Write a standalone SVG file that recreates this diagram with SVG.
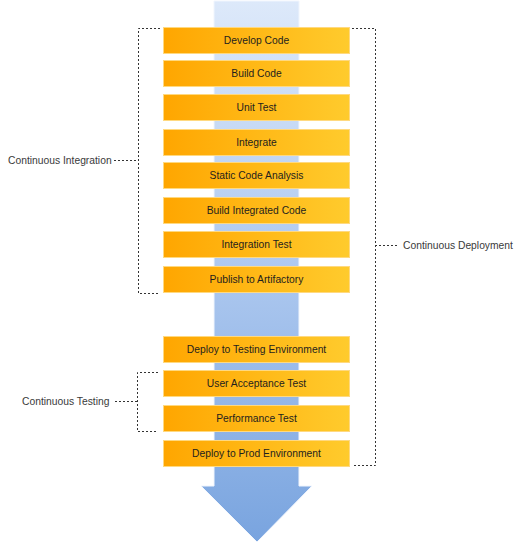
<svg xmlns="http://www.w3.org/2000/svg" width="528" height="545" viewBox="0 0 528 545">
<defs>
<linearGradient id="arrowGrad" x1="0" y1="0" x2="0" y2="1" gradientUnits="objectBoundingBox">
<stop offset="0" stop-color="#dde9fa"/>
<stop offset="0.5" stop-color="#adc8ef"/>
<stop offset="1" stop-color="#79a4df"/>
</linearGradient>
<linearGradient id="boxGrad" x1="0" y1="0" x2="1" y2="0">
<stop offset="0" stop-color="#ffa600"/>
<stop offset="1" stop-color="#ffcb2d"/>
</linearGradient>
<style>
.box rect{fill:url(#boxGrad);stroke:#ffd980;stroke-width:1}
.box text{font-family:"Liberation Sans",Arial,sans-serif;font-size:10.3px;fill:#1e1e1e;text-anchor:middle}
.lbl{font-family:"Liberation Sans",Arial,sans-serif;font-size:10.3px;fill:#3a3a3a}
.dash{fill:none;stroke:#333;stroke-width:1;stroke-dasharray:2,2}
</style>
</defs>
<g id="arrow">
<path d="M214,1 L299,1 L299,486 L312,486 L257,542 L201,486 L214,486 Z" fill="url(#arrowGrad)" stroke="#f0f5fd" stroke-width="1"/>
</g>
<g id="connectors">
<path class="dash" d="M160,28.5 H138.5 V293.5 H160"/>
<path class="dash" d="M114,160.5 H138"/>
<path class="dash" d="M352,28.5 H375.5 V465.5 H353"/>
<path class="dash" d="M375,245.5 H398"/>
<path class="dash" d="M158,372.5 H137.5 V431.5 H158"/>
<path class="dash" d="M115,401.5 H137"/>
</g>
<g id="n1" class="box"><rect x="163.5" y="27.5" width="186" height="26"/><text x="256.5" y="44">Develop Code</text></g>
<g id="n2" class="box"><rect x="163.5" y="60.5" width="186" height="26"/><text x="256.5" y="77">Build Code</text></g>
<g id="n3" class="box"><rect x="163.5" y="94.5" width="186" height="26"/><text x="256.5" y="111">Unit Test</text></g>
<g id="n4" class="box"><rect x="163.5" y="129.5" width="186" height="26"/><text x="256.5" y="146">Integrate</text></g>
<g id="n5" class="box"><rect x="163.5" y="162.5" width="186" height="26"/><text x="256.5" y="179">Static Code Analysis</text></g>
<g id="n6" class="box"><rect x="163.5" y="197.5" width="186" height="26"/><text x="256.5" y="214">Build Integrated Code</text></g>
<g id="n7" class="box"><rect x="163.5" y="231.5" width="186" height="26"/><text x="256.5" y="248">Integration Test</text></g>
<g id="n8" class="box"><rect x="163.5" y="266.5" width="186" height="26"/><text x="256.5" y="283">Publish to Artifactory</text></g>
<g id="n9" class="box"><rect x="163.5" y="336.5" width="186" height="26"/><text x="256.5" y="353">Deploy to Testing Environment</text></g>
<g id="n10" class="box"><rect x="163.5" y="370.5" width="186" height="26"/><text x="256.5" y="387">User Acceptance Test</text></g>
<g id="n11" class="box"><rect x="163.5" y="405.5" width="186" height="26"/><text x="256.5" y="422">Performance Test</text></g>
<g id="n12" class="box"><rect x="163.5" y="440.5" width="186" height="26"/><text x="256.5" y="457">Deploy to Prod Environment</text></g>
<g id="labels">
<text class="lbl" x="8" y="164">Continuous Integration</text>
<text class="lbl" x="403" y="249">Continuous Deployment</text>
<text class="lbl" x="22" y="405">Continuous Testing</text>
</g>
</svg>
